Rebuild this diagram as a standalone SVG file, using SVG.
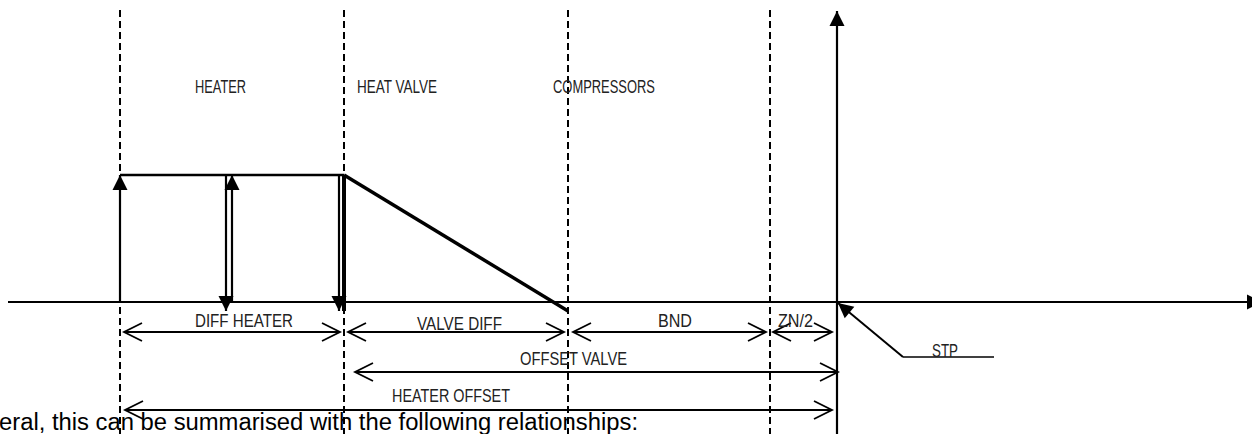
<svg xmlns="http://www.w3.org/2000/svg" width="1252" height="434" viewBox="0 0 1252 434">
<style>
.dash{stroke:#000;stroke-width:2;stroke-dasharray:7,4;fill:none}
.ax{stroke:#000;stroke-width:2.2;fill:none}
.thk{stroke:#000;stroke-width:2.5;fill:none}
.dim{stroke:#000;stroke-width:1.8;fill:none}
.lbl{font-family:"Liberation Sans",Arial,sans-serif;font-size:18px;fill:#222}
.body{font-family:"Liberation Sans",Arial,sans-serif;font-size:23px;fill:#000}
</style>
<defs>
<marker id="solid" markerUnits="userSpaceOnUse" markerWidth="16" markerHeight="16" refX="15" refY="7.5" orient="auto" overflow="visible">
<path d="M0,0 L15,7.5 L0,15 z" fill="#000"/>
</marker>
<marker id="open" markerUnits="userSpaceOnUse" markerWidth="20" markerHeight="20" refX="18" refY="9" orient="auto-start-reverse" overflow="visible">
<path d="M0,0 L18,9 L0,18" fill="none" stroke="#000" stroke-width="1.8"/>
</marker>
</defs>
<g id="gridlines">
<line class="dash" x1="120" y1="10" x2="120" y2="434"/>
<line class="dash" x1="344" y1="10" x2="344" y2="434"/>
<line class="dash" x1="568" y1="10" x2="568" y2="434"/>
<line class="dash" x1="770" y1="10" x2="770" y2="434"/>
</g>
<g id="axes">
<line class="ax" x1="8" y1="302" x2="1262" y2="302" marker-end="url(#solid)"/>
<line class="ax" x1="837" y1="434" x2="837" y2="11" marker-end="url(#solid)"/>
</g>
<g id="zone-labels">
<text class="lbl" x="195" y="93" textLength="51" lengthAdjust="spacingAndGlyphs">HEATER</text>
<text class="lbl" x="357" y="93" textLength="80" lengthAdjust="spacingAndGlyphs">HEAT VALVE</text>
<text class="lbl" x="553" y="93" textLength="102" lengthAdjust="spacingAndGlyphs">COMPRESSORS</text>
</g>
<g id="heater-profile">
<line class="thk" x1="120" y1="175" x2="344" y2="175"/>
<line x1="344" y1="175" x2="568" y2="311" stroke="#000" stroke-width="3.5"/>
<line x1="344" y1="175" x2="344" y2="311" stroke="#000" stroke-width="4"/>
</g>
<g id="connectors">
<line class="ax" x1="120" y1="302" x2="120" y2="175" marker-end="url(#solid)"/>
<line class="ax" x1="226" y1="175" x2="226" y2="311" marker-end="url(#solid)"/>
<line class="ax" x1="232" y1="302" x2="232" y2="175" marker-end="url(#solid)"/>
<line class="ax" x1="339" y1="175" x2="339" y2="311" marker-end="url(#solid)"/>
<line class="dim" x1="124" y1="332" x2="340" y2="332" marker-start="url(#open)" marker-end="url(#open)"/>
<line class="dim" x1="348" y1="332" x2="564" y2="332" marker-start="url(#open)" marker-end="url(#open)"/>
<line class="dim" x1="573" y1="332" x2="766" y2="332" marker-start="url(#open)" marker-end="url(#open)"/>
<line class="dim" x1="773" y1="332" x2="832" y2="332" marker-start="url(#open)" marker-end="url(#open)"/>
<line class="dim" x1="355" y1="372" x2="838" y2="372" marker-start="url(#open)" marker-end="url(#open)"/>
<line class="dim" x1="125" y1="410" x2="832" y2="410" marker-start="url(#open)" marker-end="url(#open)"/>
<line x1="903" y1="357" x2="838" y2="303" stroke="#000" stroke-width="2" marker-end="url(#solid)"/>
<line x1="903" y1="357" x2="994" y2="357" stroke="#000" stroke-width="1.5"/>
</g>
<g id="dim-labels">
<text class="lbl" x="195" y="327" textLength="98" lengthAdjust="spacingAndGlyphs">DIFF HEATER</text>
<text class="lbl" x="417" y="330" textLength="85" lengthAdjust="spacingAndGlyphs">VALVE DIFF</text>
<text class="lbl" x="658" y="327" textLength="34" lengthAdjust="spacingAndGlyphs">BND</text>
<text class="lbl" x="778" y="327" textLength="35" lengthAdjust="spacingAndGlyphs">ZN/2</text>
<text class="lbl" x="520" y="365" textLength="107" lengthAdjust="spacingAndGlyphs">OFFSET VALVE</text>
<text class="lbl" x="392" y="402" textLength="118" lengthAdjust="spacingAndGlyphs">HEATER OFFSET</text>
<text class="lbl" x="932" y="357" textLength="26" lengthAdjust="spacingAndGlyphs">STP</text>
</g>
<text class="body" x="-1" y="430" textLength="639" lengthAdjust="spacingAndGlyphs">eral, this can be summarised with the following relationships:</text>
</svg>
